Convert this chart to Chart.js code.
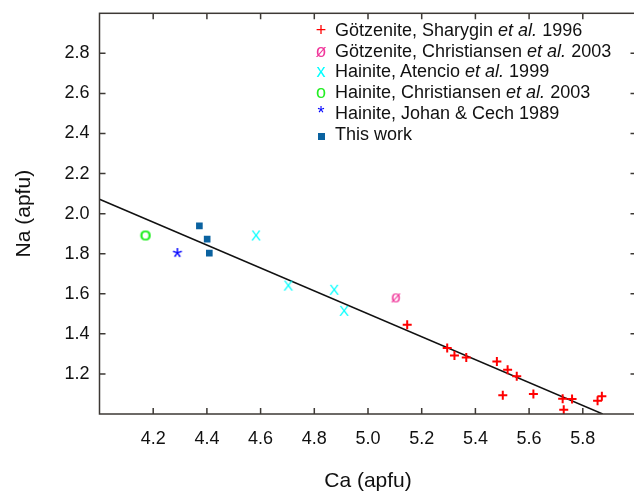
<!DOCTYPE html>
<html>
<head>
<meta charset="utf-8">
<script src="https://cdn.jsdelivr.net/npm/chart.js@4"></script>
<style>
  body { margin: 0; overflow: hidden; background: #fff; }
  #wrap { position: relative; width: 643px; height: 494px; }
  #legend {
    position: absolute; left: 312px; top: 20px;
    font-family: "Liberation Sans", Arial, sans-serif; font-size: 18px;
    line-height: 20.7px; color: #111; white-space: nowrap;
  }
  #legend .sym { display: inline-block; width: 18px; margin-right: 5px; text-align: center; }
  #legend .box { display: inline-block; width: 7px; height: 7px; background: #0a62a0; }
</style>
</head>
<body>
<div id="wrap">
  <canvas id="chart" width="643" height="494"></canvas>
  <div id="legend">
    <div><span class="sym" style="color:#ff0000">+</span>Götzenite, Sharygin <i>et al.</i> 1996</div>
    <div><span class="sym" style="color:#f0359a">ø</span>Götzenite, Christiansen <i>et al.</i> 2003</div>
    <div><span class="sym" style="color:#00ffff">x</span>Hainite, Atencio <i>et al.</i> 1999</div>
    <div><span class="sym" style="color:#22ee22">o</span>Hainite, Christiansen <i>et al.</i> 2003</div>
    <div><span class="sym" style="color:#0000ff">*</span>Hainite, Johan &amp; Cech 1989</div>
    <div><span class="sym"><span class="box"></span></span>This work</div>
  </div>
</div>
<script>
// ============================
// Data (Ca vs Na, apfu)
// ============================
const sharyginCa = [5.146, 5.295, 5.322, 5.366, 5.480, 5.520, 5.554, 5.502, 5.616, 5.725, 5.760, 5.729, 5.855, 5.871];
const sharyginNa = [1.445, 1.329, 1.292, 1.282, 1.262, 1.221, 1.188, 1.093, 1.100, 1.076, 1.075, 1.021, 1.066, 1.088];

const christiansenGotCa = [5.103];
const christiansenGotNa = [1.582];

const atencioCa = [4.583, 4.703, 4.874, 4.911];
const atencioNa = [1.891, 1.641, 1.620, 1.515];

const christiansenHaiCa = [4.172];
const christiansenHaiNa = [1.891];

const johanCa = [4.290];
const johanNa = [1.803];

const thisWorkCa = [4.372, 4.401, 4.409];
const thisWorkNa = [1.939, 1.873, 1.803];

// regression line end points
const fitCa = [4.0, 5.874];
const fitNa = [2.072, 1.0];

// axis ranges and tick step
const caRange = [4.0, 6.0];
const naRange = [1.0, 3.0];
const tickStep = 0.2;

const FONT = "'Liberation Sans', Arial, sans-serif";
const AXIS_COLOR = "#3d3935";

function toPoints(xs, ys) {
  return xs.map((x, i) => ({ x: x, y: ys[i] }));
}

// glyph-like markers drawn into small canvases
function makeGlyph(ch, font, color) {
  const c = document.createElement("canvas");
  c.width = 26;
  c.height = 26;
  const g = c.getContext("2d");
  g.font = font;
  g.fillStyle = color;
  const m = g.measureText(ch);
  const w = m.actualBoundingBoxLeft + m.actualBoundingBoxRight;
  const h = m.actualBoundingBoxAscent + m.actualBoundingBoxDescent;
  g.fillText(ch, 13 - w / 2 + m.actualBoundingBoxLeft, 13 - h / 2 + m.actualBoundingBoxAscent);
  return c;
}

const slashO = makeGlyph("ø", "17px " + FONT, "#f0359a");
const bigX = makeGlyph("X", "15px " + FONT, "#00ffff");
const bigO = makeGlyph("O", "bold 15px " + FONT, "#22ee22");
const star = makeGlyph("*", "26px " + FONT, "#0000ff");

// ============================
// Frame + inward tick marks
// ============================
const frameTicks = {
  id: "frameTicks",
  afterDraw(chart) {
    const { ctx, chartArea: a } = chart;
    const xs = chart.scales.x;
    const ys = chart.scales.y;
    const len = 6;
    ctx.save();
    ctx.strokeStyle = AXIS_COLOR;
    ctx.lineWidth = 1.5;
    ctx.beginPath();
    xs.ticks.forEach((t) => {
      if (t.value <= caRange[0] + 0.01 || t.value >= caRange[1] - 0.01) return;
      const px = xs.getPixelForValue(t.value);
      ctx.moveTo(px, a.bottom);
      ctx.lineTo(px, a.bottom - len);
      ctx.moveTo(px, a.top);
      ctx.lineTo(px, a.top + len);
    });
    ys.ticks.forEach((t) => {
      if (t.value <= naRange[0] + 0.01 || t.value >= naRange[1] - 0.01) return;
      const py = ys.getPixelForValue(t.value);
      ctx.moveTo(a.left, py);
      ctx.lineTo(a.left + len, py);
      ctx.moveTo(a.right, py);
      ctx.lineTo(a.right - len, py);
    });
    ctx.stroke();
    ctx.strokeRect(a.left, a.top, a.right - a.left, a.bottom - a.top);
    ctx.restore();
  },
};

function tickLabel(min, max) {
  return (v) => (v > min + 0.01 && v < max - 0.01 ? Number(v).toFixed(1) : "");
}

// ============================
// Chart
// ============================
const ctx = document.getElementById("chart").getContext("2d");
new Chart(ctx, {
  type: "scatter",
  data: {
    datasets: [
      {
        label: "Götzenite, Sharygin et al. 1996",
        data: toPoints(sharyginCa, sharyginNa),
        pointStyle: "cross",
        pointRadius: 4.5,
        borderColor: "#ff0000",
        borderWidth: 2,
      },
      {
        label: "Götzenite, Christiansen et al. 2003",
        data: toPoints(christiansenGotCa, christiansenGotNa),
        pointStyle: slashO,
      },
      {
        label: "Hainite, Atencio et al. 1999",
        data: toPoints(atencioCa, atencioNa),
        pointStyle: bigX,
      },
      {
        label: "Hainite, Christiansen et al. 2003",
        data: toPoints(christiansenHaiCa, christiansenHaiNa),
        pointStyle: bigO,
      },
      {
        label: "Hainite, Johan & Cech 1989",
        data: toPoints(johanCa, johanNa),
        pointStyle: star,
      },
      {
        label: "This work",
        data: toPoints(thisWorkCa, thisWorkNa),
        pointStyle: "rect",
        pointRadius: 4.7,
        backgroundColor: "#0a62a0",
        borderWidth: 0,
      },
      {
        type: "line",
        label: "fit",
        data: toPoints(fitCa, fitNa),
        borderColor: "#111",
        borderWidth: 1.5,
        pointRadius: 0,
        fill: false,
        order: 1,
      },
    ],
  },
  options: {
    responsive: false,
    animation: false,
    layout: { padding: { top: 13.3, right: 4, left: 0, bottom: 0 } },
    plugins: { legend: { display: false }, tooltip: { enabled: false } },
    scales: {
      x: {
        type: "linear",
        min: caRange[0],
        max: caRange[1],
        afterFit: (s) => {
          s.height = 80;
          s.paddingLeft = 0;
          s.paddingRight = 0;
        },
        border: { display: false },
        grid: { display: false, drawTicks: false },
        ticks: {
          stepSize: tickStep,
          padding: 14,
          color: "#111",
          font: { family: FONT, size: 18 },
          callback: tickLabel(caRange[0], caRange[1]),
        },
        title: {
          display: true,
          text: "Ca (apfu)",
          color: "#111",
          font: { family: FONT, size: 21 },
          padding: { top: 0, bottom: 0 },
        },
      },
      y: {
        type: "linear",
        min: naRange[0],
        max: naRange[1],
        afterFit: (s) => {
          s.width = 99.5;
          s.paddingTop = 0;
          s.paddingBottom = 0;
        },
        border: { display: false },
        grid: { display: false, drawTicks: false },
        ticks: {
          stepSize: tickStep,
          padding: 10,
          color: "#111",
          font: { family: FONT, size: 18 },
          callback: tickLabel(naRange[0], naRange[1]),
        },
        title: {
          display: true,
          text: "Na (apfu)",
          color: "#111",
          font: { family: FONT, size: 21 },
          padding: { top: 12, bottom: 0 },
        },
      },
    },
  },
  plugins: [frameTicks],
});
</script>
</body>
</html>
